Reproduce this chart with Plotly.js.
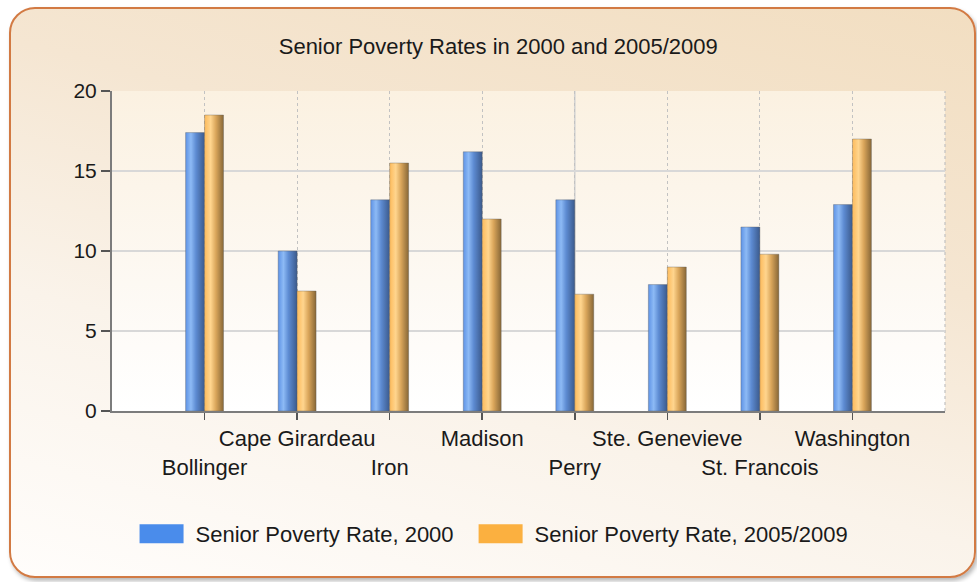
<!DOCTYPE html>
<html>
<head>
<meta charset="utf-8">
<script src="https://cdn.plot.ly/plotly-3.0.1.min.js"></script>
<style>
  html, body { margin:0; padding:0; background:#ffffff; }
  #wrap { position:relative; width:977px; height:582px; overflow:hidden; }
  #frame {
    position:absolute; left:9px; top:7px; width:963px; height:567px;
    border:2px solid #d27a43; border-radius:26px;
    background: linear-gradient(195deg, #f2dec1 0%, #f5e6d2 35%, #faf3ea 65%, #fffdfb 100%);
    box-shadow: 2px 3px 4px rgba(0,0,0,0.28);
  }
  #chart { position:absolute; left:0; top:0; width:977px; height:582px; }
</style>
</head>
<body>
<div id="wrap">
  <div id="frame"></div>
  <div id="chart"></div>
</div>
<svg width="0" height="0" style="position:absolute;left:0;top:0">
  <defs>
    <linearGradient id="gradBlue" x1="0" y1="0" x2="1" y2="0">
      <stop offset="0" stop-color="#5e93e6"/>
      <stop offset="0.28" stop-color="#8dbaf5"/>
      <stop offset="0.55" stop-color="#5d8bd2"/>
      <stop offset="1" stop-color="#3b5a8c"/>
    </linearGradient>
    <linearGradient id="gradOrange" x1="0" y1="0" x2="1" y2="0">
      <stop offset="0" stop-color="#fdbb5c"/>
      <stop offset="0.32" stop-color="#ffd58e"/>
      <stop offset="0.6" stop-color="#d9a55a"/>
      <stop offset="1" stop-color="#876737"/>
    </linearGradient>
  </defs>
</svg>
<script>
// ---- data ----
const categories = ['Bollinger', 'Cape Girardeau', 'Iron', 'Madison', 'Perry', 'Ste. Genevieve', 'St. Francois', 'Washington'];
const rate2000 = [17.4, 10.0, 13.2, 16.2, 13.2, 7.9, 11.5, 12.9];
const rate20052009 = [18.5, 7.5, 15.5, 12.0, 7.3, 9.0, 9.8, 17.0];
const seriesNames = ['Senior Poverty Rate, 2000', 'Senior Poverty Rate, 2005/2009'];
const chartTitle = 'Senior Poverty Rates in 2000 and 2005/2009';
const yTickVals = [0, 5, 10, 15, 20];

// staggered category labels (odd ones on a second row)
const tickText = categories.map((c, i) => (i % 2 === 0 ? '\u00a0<br>' + c : c));

const FONT = '"Liberation Sans", Arial, sans-serif';
const TXT = '#1a1a1a';

const plotBg = "<svg xmlns='http://www.w3.org/2000/svg' width='100' height='100' preserveAspectRatio='none'>" +
  "<defs><linearGradient id='g' x1='0' y1='0' x2='0' y2='1'>" +
  "<stop offset='0' stop-color='#fbf1e1'/><stop offset='0.6' stop-color='#fdf9f3'/><stop offset='1' stop-color='#ffffff'/>" +
  "</linearGradient></defs><rect width='100' height='100' fill='url(#g)'/></svg>";

const traces = [
  { type: 'bar', name: seriesNames[0], x: categories, y: rate2000,
    marker: { color: '#5b8fe0', line: { color: 'rgba(90,90,90,0.45)', width: 0.8 } } },
  { type: 'bar', name: seriesNames[1], x: categories, y: rate20052009,
    marker: { color: '#e8b05a', line: { color: 'rgba(90,90,90,0.45)', width: 0.8 } } }
];

const layout = {
  width: 977, height: 582,
  margin: { l: 112, r: 32, t: 91, b: 171, pad: 0 },
  paper_bgcolor: 'rgba(0,0,0,0)',
  plot_bgcolor: 'rgba(0,0,0,0)',
  font: { family: FONT, color: TXT, size: 22 },
  title: { text: chartTitle, x: 0.51, xref: 'container', xanchor: 'center',
           y: 0.921, yref: 'container', yanchor: 'middle',
           font: { family: FONT, size: 22, color: TXT } },
  barmode: 'group', bargap: 0.59, bargroupgap: 0,
  showlegend: true,
  legend: { orientation: 'h', xref: 'container', yref: 'container', x: 0.5062, xanchor: 'center',
            y: 0.0825, yanchor: 'middle', font: { family: FONT, size: 22, color: TXT },
            itemwidth: 58,
            bgcolor: 'rgba(0,0,0,0)', itemclick: false, itemdoubleclick: false },
  xaxis: {
    type: 'category', range: [-1, categories.length],
    tickmode: 'array', tickvals: categories, ticktext: tickText,
    showgrid: true, gridcolor: '#c2c2c2', gridwidth: 1.2, griddash: 'dot',
    showline: true, linecolor: '#7c7c7c', linewidth: 2,
    ticks: 'outside', ticklen: 7, tickwidth: 1.5, tickcolor: '#555555',
    tickfont: { family: FONT, size: 22, color: TXT }, tickangle: 0,
    ticklabelstandoff: 0,
    zeroline: false, fixedrange: true
  },
  yaxis: {
    range: [0, 20], tickmode: 'array', tickvals: yTickVals,
    showgrid: true, gridcolor: '#d8d8d8', gridwidth: 1.6,
    showline: true, linecolor: '#7c7c7c', linewidth: 2,
    ticks: 'outside', ticklen: 9, tickwidth: 1.5, tickcolor: '#555555',
    tickfont: { family: FONT, size: 21, color: TXT },
    zeroline: false, fixedrange: true
  },
  images: [{ source: 'data:image/svg+xml;charset=utf-8,' + encodeURIComponent(plotBg),
             xref: 'paper', yref: 'paper', x: 0, y: 1, sizex: 1, sizey: 1,
             xanchor: 'left', yanchor: 'top', sizing: 'stretch', layer: 'below' }],
  shapes: [
    { type: 'line', xref: 'x', yref: 'paper', x0: categories[4], x1: categories[4], y0: 0, y1: 1,
      line: { color: '#d2d2d2', width: 1.6 }, layer: 'below' },
    { type: 'line', xref: 'paper', yref: 'paper', x0: 1, x1: 1, y0: 0, y1: 1,
      line: { color: '#c2c2c2', width: 1.2, dash: 'dot' }, layer: 'below' }
  ]
};

Plotly.newPlot('chart', traces, layout, { displayModeBar: false, staticPlot: true }).then(function (gd) {
  const grads = ['url(#gradBlue)', 'url(#gradOrange)'];
  const legendFill = ['#4a8ceb', '#fbb040'];
  gd.querySelectorAll('.barlayer .trace').forEach(function (tr, i) {
    tr.querySelectorAll('.point path').forEach(function (p) { p.style.fill = grads[i]; });
  });
  const items = gd.querySelectorAll('.legend .traces');
  items.forEach(function (tr, i) {
    tr.querySelectorAll('.legendpoints path').forEach(function (p) {
      p.setAttribute('d', 'M22,9.5H-22V-9.5H22Z');
      p.style.fill = legendFill[i];
      p.style.stroke = 'none';
    });
    if (i < items.length - 1) {
      // widen the gap between legend entries a little, as in the original
      const t = tr.getAttribute('transform') || '';
      const m = t.match(/translate\(\s*([-\d.e]+)[ ,]+([-\d.e]+)\s*\)/);
      if (m) tr.setAttribute('transform', 'translate(' + (parseFloat(m[1]) - 8 * (items.length - 1 - i)) + ',' + m[2] + ')');
    }
  });
});
</script>
</body>
</html>
